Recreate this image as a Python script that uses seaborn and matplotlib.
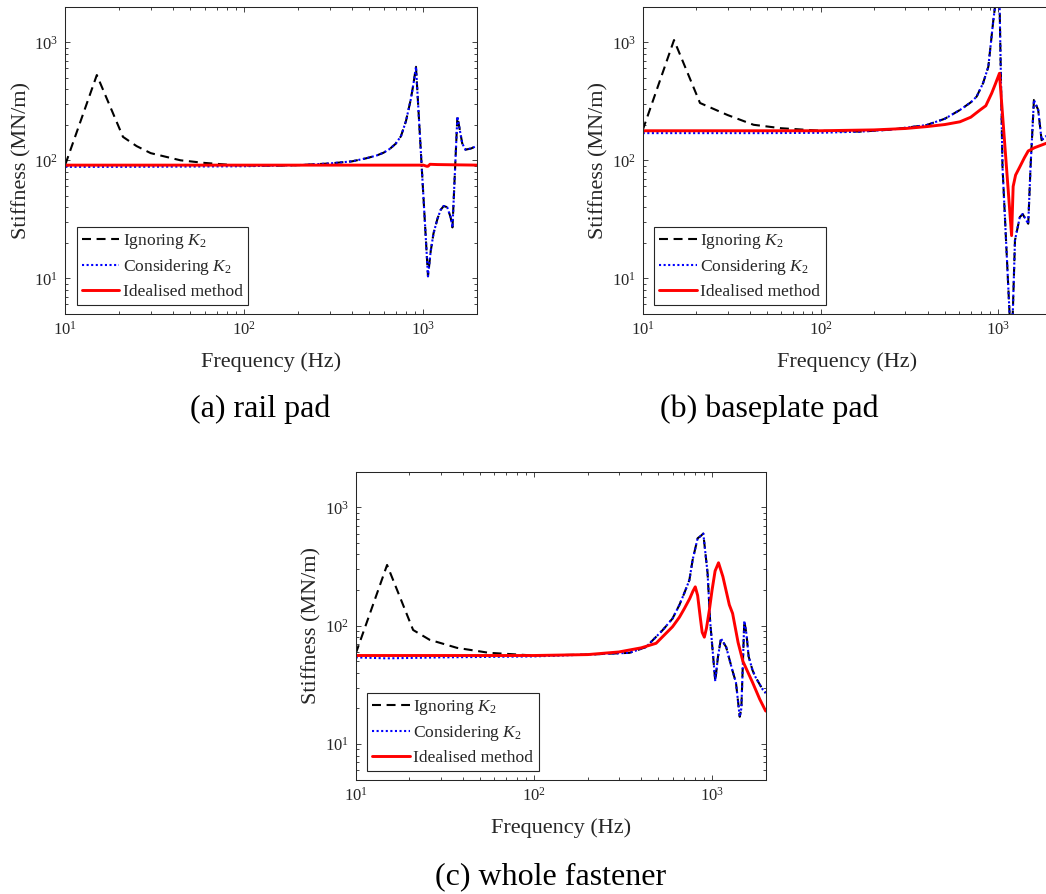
import matplotlib
matplotlib.use("Agg")
import matplotlib.pyplot as plt
import seaborn as sns
import pandas as pd
from matplotlib.ticker import LogLocator, NullFormatter, LogFormatterSciNotation

# ---------------- data ----------------
# (a) rail pad
freq_a_con = [10, 20, 50, 100, 200, 300, 400, 480, 550, 600, 650, 700, 750, 800, 850,
              880, 910, 1062, 1100, 1140, 1200, 1250, 1300, 1360, 1420, 1455, 1550,
              1600, 1650, 1720, 1850, 2000]
stiff_a_con = [88, 88, 88.5, 89, 91, 94, 98, 104, 110, 116, 125, 138, 160, 215, 325,
               440, 620, 10.4, 17, 24, 32, 38, 41, 40, 33, 27, 235,
               180, 139, 123, 126, 133]
freq_a_ign_low = [10, 15, 21, 25, 30, 44, 60, 87, 100, 150]
stiff_a_ign_low = [92, 528, 158, 132, 115, 100, 95, 91, 90.5, 90]
freq_a_ide = [10, 100, 1000, 1045, 1062, 1090, 1200, 2000]
stiff_a_ide = [91, 91, 91, 89, 89, 92.5, 92, 91]

# (b) baseplate pad
freq_b_con = [10, 50, 100, 167, 250, 395, 500, 608, 700, 755, 820, 878, 937, 990,
              1016, 1055, 1160, 1205, 1240, 1320, 1370, 1472, 1517, 1585, 1675, 1750,
              1850, 2000]
stiff_b_con = [170, 170, 171, 175, 182, 199, 225, 267, 310, 347, 450, 620, 1540, 3000,
               2100, 88, 4.5, 5, 21, 33, 35, 29, 88, 325, 267, 148,
               160, 150]
freq_b_ign_low = [10, 15, 21, 30, 42, 60, 100]
stiff_b_ign_low = [180, 1045, 306, 242, 200, 187, 178]
freq_b_ide = [10, 100, 200, 300, 395, 500, 608, 700, 789, 850, 917, 960, 1014, 1187,
              1211, 1250, 1320, 1400, 1472, 1600, 1850, 2000]
stiff_b_ide = [178, 178, 181, 186, 193, 201, 212, 232, 267, 290, 370, 440, 546, 23,
               60, 75, 88, 105, 120, 128, 139, 145]

# (c) whole fastener
freq_c_con = [10, 15, 30, 100, 200, 344, 426, 529, 600, 656, 700, 746, 778, 830, 860,
              893, 944, 975, 1042, 1080, 1122, 1200, 1300, 1362, 1430, 1460, 1517,
              1560, 1604, 1687, 1750, 1920, 2000]
stiff_c_con = [54, 53, 54, 55, 57, 59, 66, 92, 115, 150, 190, 243, 360, 548, 570,
               600, 277, 110, 34, 55, 78, 66, 42, 33, 17, 20, 110,
               85, 55, 42, 37, 29, 27]
freq_c_ign_low = [10, 15, 21, 26, 37, 56, 100]
stiff_c_ign_low = [58, 326, 92, 76, 65, 59, 56]
freq_c_ide = [10, 100, 200, 300, 400, 485, 600, 656, 700, 750, 780, 805, 830, 860,
              880, 905, 930, 966, 1000, 1040, 1087, 1150, 1250, 1304, 1400, 1490,
              1690, 1850, 2000]
stiff_c_ide = [56, 56, 57, 60, 65, 71, 98, 118, 140, 170, 195, 213, 180, 115,
               88, 80, 95, 136, 200, 290, 340, 260, 150, 127, 72, 50,
               33, 24, 19]

labels = ["Ignoring $K_{\\mathit{2}}$", "Considering $K_{\\mathit{2}}$", "Idealised method"]
captions = ["(a) rail pad", "(b) baseplate pad", "(c) whole fastener"]
x_label = "Frequency (Hz)"
y_label = "Stiffness (MN/m)"


def ignoring(f_low, s_low, f_con, s_con):
    cut = max(f_low)
    f = list(f_low) + [f for f in f_con if f > cut]
    s = list(s_low) + [s for f, s in zip(f_con, s_con) if f > cut]
    return f, s


panels = [
    (ignoring(freq_a_ign_low, stiff_a_ign_low, freq_a_con, stiff_a_con),
     (freq_a_con, stiff_a_con), (freq_a_ide, stiff_a_ide)),
    (ignoring(freq_b_ign_low, stiff_b_ign_low, freq_b_con, stiff_b_con),
     (freq_b_con, stiff_b_con), (freq_b_ide, stiff_b_ide)),
    (ignoring(freq_c_ign_low, stiff_c_ign_low, freq_c_con, stiff_c_con),
     (freq_c_con, stiff_c_con), (freq_c_ide, stiff_c_ide)),
]

# ---------------- style ----------------
sns.set_theme(style="ticks")
plt.rcParams["font.family"] = ["Liberation Serif", "DejaVu Serif"]
plt.rcParams["mathtext.fontset"] = "custom"
plt.rcParams["mathtext.rm"] = "Liberation Serif"
plt.rcParams["mathtext.it"] = "Liberation Serif:italic"
plt.rcParams["mathtext.bf"] = "Liberation Serif:bold"

GRAY = "#262626"
W, H = 1046, 894
fig = plt.figure(figsize=(W / 100, H / 100), dpi=100)
fig.patch.set_facecolor("white")

# axes boxes in pixels: left, top, width, height
boxes = [(65.3, 6.8, 411.9, 307.0), (642.7, 6.8, 409.2, 307.0), (355.7, 471.7, 410.0, 308.0)]
caption_pos = [(260, 409), (769, 409), (551, 877)]

styles = [
    dict(color="black", linewidth=1.5, linestyle=(0, (4.3, 2.7))),
    dict(color="#0000FF", linewidth=1.5, linestyle=(0, (1.0, 1.2))),
    dict(color="#FF0000", linewidth=2.1, linestyle="-"),
]

for (box, series, cap, cpos) in zip(boxes, panels, captions, caption_pos):
    l, t, w, h = box
    ax = fig.add_axes([l / W, 1 - (t + h) / H, w / W, h / H])
    for (f, s), st, lab in zip(series, styles, labels):
        df = pd.DataFrame({"f": f, "s": s})
        sns.lineplot(data=df, x="f", y="s", ax=ax, estimator=None, sort=False,
                     label=lab, **st)
    ax.set_xscale("log")
    ax.set_yscale("log")
    ax.set_xlim(10, 2000)
    ax.set_ylim(5, 2000)
    ax.xaxis.set_major_locator(LogLocator(base=10, numticks=10))
    ax.yaxis.set_major_locator(LogLocator(base=10, numticks=10))
    ax.xaxis.set_minor_locator(LogLocator(base=10, subs=range(2, 10), numticks=20))
    ax.yaxis.set_minor_locator(LogLocator(base=10, subs=range(2, 10), numticks=20))
    ax.xaxis.set_major_formatter(LogFormatterSciNotation())
    ax.yaxis.set_major_formatter(LogFormatterSciNotation())
    ax.xaxis.set_minor_formatter(NullFormatter())
    ax.yaxis.set_minor_formatter(NullFormatter())
    ax.tick_params(which="both", direction="in", top=True, right=True,
                   color=GRAY, labelcolor=GRAY, width=0.6)
    ax.tick_params(which="major", length=3.4, labelsize=12, pad=5)
    ax.tick_params(which="minor", length=2.0)
    for sp in ax.spines.values():
        sp.set_visible(True)
        sp.set_color(GRAY)
        sp.set_linewidth(0.75)
    ax.set_xlabel(x_label, fontsize=16, color=GRAY, va="center")
    ax.set_ylabel(y_label, fontsize=16, color=GRAY, va="center")
    ax.xaxis.set_label_coords(0.5, -48 / h)
    ax.yaxis.set_label_coords(-44 / w, 0.5)
    ax.set_facecolor("white")

    handles, labs = ax.get_legend_handles_labels()
    leg = ax.legend(handles, labs, loc="lower left",
                    bbox_to_anchor=(11.2 / w, 8.8 / h), borderaxespad=0,
                    fontsize=12.6, frameon=True, fancybox=False, shadow=False,
                    handlelength=2.15, handletextpad=0.2, borderpad=0.3,
                    labelspacing=0.35)
    leg.get_frame().set_edgecolor(GRAY)
    leg.get_frame().set_linewidth(0.8)
    leg.get_frame().set_facecolor("white")
    leg.get_frame().set_alpha(1.0)

    fig.text(cpos[0] / W, 1 - cpos[1] / H, cap, fontsize=23, ha="center",
             va="center", color="black")

fig.savefig("out.png", dpi=100, facecolor="white")
